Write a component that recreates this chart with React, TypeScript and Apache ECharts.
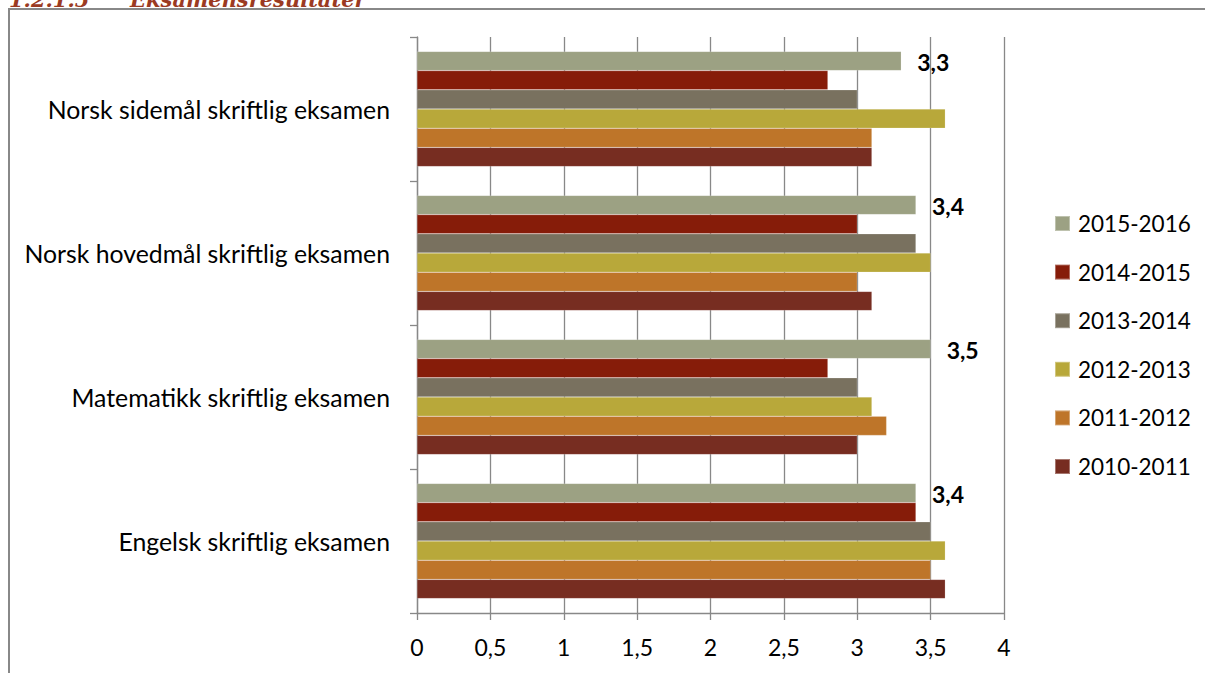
import React, { useEffect, useRef } from "react";
import * as echarts from "echarts";

const categories = [
  "Engelsk skriftlig eksamen",
  "Matematikk skriftlig eksamen",
  "Norsk hovedmål skriftlig eksamen",
  "Norsk sidemål skriftlig eksamen",
];

const seriesNames = ["2015-2016", "2014-2015", "2013-2014", "2012-2013", "2011-2012", "2010-2011"];
const seriesColors = ["#9CA183", "#861C09", "#79715F", "#B8A83A", "#BE7529", "#772D21"];

const v2015 = [3.4, 3.5, 3.4, 3.3];
const v2014 = [3.4, 2.8, 3.0, 2.8];
const v2013 = [3.5, 3.0, 3.4, 3.0];
const v2012 = [3.6, 3.1, 3.5, 3.6];
const v2011 = [3.5, 3.2, 3.0, 3.1];
const v2010 = [3.6, 3.0, 3.1, 3.1];

const seriesValues = [v2015, v2014, v2013, v2012, v2011, v2010];

const FONT = "Lato, 'Open Sans', sans-serif";
const fmt = (v: number) => String(v).replace(".", ",");

export default function App() {
  const ref = useRef<HTMLDivElement>(null);
  useEffect(() => {
    if (!ref.current) return;
    const chart = echarts.init(ref.current, undefined, { renderer: "svg" });
    const series = seriesNames.map((name, i) => ({
      name,
      type: "bar" as const,
      data: seriesValues[i],
      barGap: "0%",
      barCategoryGap: "20%",
      itemStyle: { color: seriesColors[i], borderColor: "rgba(255,255,255,0.35)", borderWidth: 0.5 },
      label:
        name === "2015-2016"
          ? {
              show: true,
              position: "right",
              distance: 16,
              formatter: (p: any) => fmt(p.value),
              fontFamily: FONT,
              fontWeight: "bold",
              fontSize: 23,
              color: "#000",
              offset: [0, 1],
            }
          : { show: false },
    }));
    chart.setOption({
      animation: false,
      backgroundColor: "#fff",
      grid: { left: 417, top: 37, right: 201, bottom: 60, containLabel: false },
      xAxis: {
        type: "value",
        min: 0,
        max: 4,
        interval: 0.5,
        axisLine: { show: true, lineStyle: { color: "#888", width: 1.3 } },
        axisTick: { show: true, length: 7, lineStyle: { color: "#888", width: 1.3 } },
        splitLine: { show: true, lineStyle: { color: "#888", width: 1.3 } },
        axisLabel: {
          formatter: (v: number) => fmt(v),
          fontFamily: FONT,
          fontSize: 23,
          color: "#000",
          margin: 22,
        },
      },
      yAxis: {
        type: "category",
        data: categories,
        axisLine: { show: true, lineStyle: { color: "#888", width: 1.3 } },
        axisTick: { show: true, length: 7, alignWithLabel: false, lineStyle: { color: "#888", width: 1.3 } },
        splitLine: { show: false },
        axisLabel: { fontFamily: FONT, fontSize: 24.8, color: "#000", margin: 27 },
      },
      legend: {
        orient: "vertical",
        left: 1054,
        top: 212,
        padding: 0,
        data: seriesNames,
        itemWidth: 15,
        itemHeight: 15,
        itemGap: 25.6,
        icon: "rect",
        textStyle: { fontFamily: FONT, fontSize: 22.5, color: "#000", lineHeight: 21, padding: [0, 0, 0, 3] },
      },
      graphic: [
        {
          type: "rect",
          shape: { x: 9, y: 9, width: 1400, height: 900 },
          style: { fill: "none", stroke: "#888", lineWidth: 2 },
          silent: true,
        },
        {
          type: "text",
          x: 9,
          y: 10,
          style: {
            text: "1.2.1.5",
            fontFamily: "'DejaVu Serif', serif",
            fontStyle: "italic",
            fontWeight: "bold",
            fontSize: 21,
            fill: "#9B3A22",
            verticalAlign: "bottom",
          },
        },
        {
          type: "text",
          x: 130,
          y: 10,
          style: {
            text: "Eksamensresultater",
            fontFamily: "'DejaVu Serif', serif",
            fontStyle: "italic",
            fontWeight: "bold",
            fontSize: 21,
            fill: "#9B3A22",
            verticalAlign: "bottom",
          },
        },
      ],
      series,
    });
    return () => chart.dispose();
  }, []);
  return (
    <div
      ref={ref}
      style={{ position: "fixed", left: 0, top: 0, width: 1205, height: 673, background: "#fff" }}
    />
  );
}
